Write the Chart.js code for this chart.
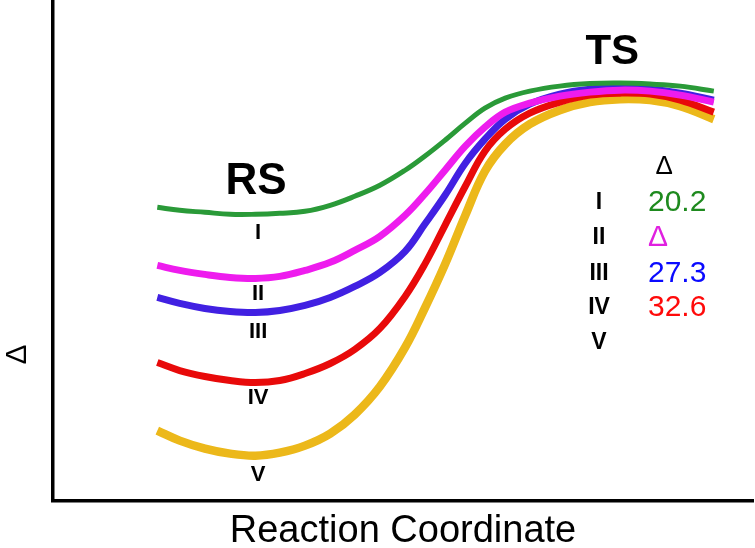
<!DOCTYPE html>
<html>
<head>
<meta charset="utf-8">
<script src="https://cdn.jsdelivr.net/npm/chart.js@4"></script>
<style>
  body { margin: 0; background: #fff; }
  #wrap { width: 755px; height: 548px; }
</style>
</head>
<body>
<div id="wrap"><canvas id="myChart"></canvas></div>
<script>
// reaction coordinate (arbitrary units 0-100)
const coord = [14.9, 18.1, 21.7, 25.3, 28.9, 32.4, 36.0, 39.6, 43.1, 46.7, 50.3, 53.1, 56.0, 58.9, 61.7, 64.6, 68.1, 72.4, 76.7, 81.0, 85.3, 89.6, 94.4];
// relative energies (arbitrary units 0-100)
const energyI   = [58.6, 58.0, 57.6, 57.2, 57.2, 57.4, 57.8, 59.0, 60.8, 63.0, 66.0, 68.8, 72.0, 75.4, 78.4, 80.4, 81.8, 82.8, 83.3, 83.4, 83.2, 82.8, 81.8];
const energyII  = [47.0, 46.0, 45.2, 44.6, 44.4, 44.8, 46.0, 47.6, 50.0, 52.8, 57.0, 61.2, 66.0, 70.8, 74.6, 77.6, 79.4, 80.8, 81.6, 82.0, 81.8, 81.0, 79.6];
const energyIII = [40.6, 39.4, 38.4, 37.8, 37.6, 38.0, 39.0, 40.6, 42.8, 45.6, 49.8, 55.2, 61.0, 67.4, 72.2, 76.2, 79.2, 81.2, 82.2, 82.4, 82.2, 81.4, 80.0];
const energyIV  = [27.6, 26.0, 24.8, 24.0, 23.6, 24.0, 25.4, 27.4, 30.2, 34.4, 40.8, 47.2, 55.0, 62.8, 69.8, 74.2, 77.4, 79.6, 81.0, 81.4, 81.2, 80.0, 77.6];
const energyV   = [14.0, 12.0, 10.4,  9.4,  9.0,  9.6, 11.0, 13.4, 17.2, 22.8, 30.6, 38.4, 47.2, 57.0, 65.8, 71.2, 75.2, 78.0, 79.6, 80.2, 80.0, 78.8, 76.2];

const compounds = ['I', 'II', 'III', 'IV', 'V'];
const barriers = ['20.2', 'Δ', '27.3', '32.6', ''];
const curveColors = ['#2a9a38', '#ee1cee', '#4120e2', '#e80a0a', '#ecb81a'];
const textColors = ['#1e8a1e', '#e020e0', '#0a0aff', '#ff0a0a', '#000'];

const series = [energyI, energyII, energyIII, energyIV, energyV];
const widths = [5, 7, 7, 7, 8.5];

const datasets = series.map((vals, i) => ({
  label: compounds[i],
  data: vals.map((v, j) => ({ x: coord[j], y: v })),
  borderColor: curveColors[i],
  borderWidth: widths[i],
  pointRadius: 0,
  tension: 0.4,
  fill: false
}));

const FONT = "'Liberation Sans', Arial, sans-serif";

// text on the diagram, placed in data units
const annotations = {
  id: 'annotations',
  afterDatasetsDraw(chart) {
    const { ctx, scales: { x, y } } = chart;
    const put = (txt, xv, yv, font, color, align) => {
      ctx.font = font;
      ctx.fillStyle = color || '#000';
      ctx.textAlign = align || 'center';
      ctx.textBaseline = 'middle';
      ctx.fillText(txt, x.getPixelForValue(xv), y.getPixelForValue(yv));
    };
    ctx.save();
    put('RS', 29, 63.6, 'bold 44px ' + FONT);
    put('TS', 79.9, 89.6, 'bold 42px ' + FONT);

    // numerals under the reactant minima
    const curveLabelY = [53.4, 41.2, 33.8, 20.6, 5.2];
    compounds.forEach((c, i) => put(c, 29.3, curveLabelY[i], 'bold 22px ' + FONT));

    // barrier table
    put('Δ', 87.3, 66.6, '26px ' + FONT);
    const rowY = [59.6, 52.6, 45.4, 38.6, 31.6];
    compounds.forEach((c, i) => {
      put(c, 78, rowY[i], 'bold 23px ' + FONT);
      if (barriers[i]) put(barriers[i], 85, rowY[i], '30px ' + FONT, textColors[i], 'left');
    });
    ctx.restore();
  }
};

const ctx = document.getElementById('myChart');

new Chart(ctx, {
  type: 'line',
  data: { datasets: datasets },
  options: {
    responsive: true,
    maintainAspectRatio: false,
    animation: false,
    layout: { padding: { left: 0, right: 2, top: 0, bottom: 0 } },
    plugins: { legend: { display: false }, tooltip: { enabled: false } },
    scales: {
      x: {
        type: 'linear',
        min: 0,
        max: 100,
        grid: { display: false },
        ticks: { display: false },
        border: { display: true, color: '#000', width: 3.5 },
        title: {
          display: true,
          text: 'Reaction Coordinate',
          color: '#000',
          font: { family: FONT, size: 38, lineHeight: 0.85 },
          padding: { top: 7, bottom: 0 }
        }
      },
      y: {
        min: 0,
        max: 100,
        grid: { display: false },
        ticks: { display: false },
        border: { display: true, color: '#000', width: 3.5 },
        title: {
          display: true,
          text: 'Δ' + ' '.repeat(25),
          color: '#000',
          font: { family: FONT, size: 30, lineHeight: 1.2 },
          padding: { top: 0, bottom: 9 }
        }
      }
    }
  },
  plugins: [annotations]
});
</script>
</body>
</html>
